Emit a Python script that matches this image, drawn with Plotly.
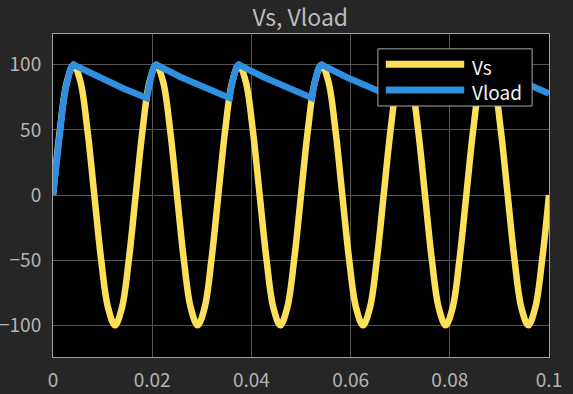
import plotly.graph_objects as go

# Source voltage Vs (12 samples per cycle)
t_vs = [0.0, 0.00139, 0.00278, 0.00417, 0.00556, 0.00694, 0.00833, 0.00972, 0.01111, 0.0125, 0.01389, 0.01528,
        0.01667, 0.01806, 0.01944, 0.02083, 0.02222, 0.02361, 0.025, 0.02639, 0.02778, 0.02917, 0.03056, 0.03194,
        0.03333, 0.03472, 0.03611, 0.0375, 0.03889, 0.04028, 0.04167, 0.04306, 0.04444, 0.04583, 0.04722, 0.04861,
        0.05, 0.05139, 0.05278, 0.05417, 0.05556, 0.05694, 0.05833, 0.05972, 0.06111, 0.0625, 0.06389, 0.06528,
        0.06667, 0.06806, 0.06944, 0.07083, 0.07222, 0.07361, 0.075, 0.07639, 0.07778, 0.07917, 0.08056, 0.08194,
        0.08333, 0.08472, 0.08611, 0.0875, 0.08889, 0.09028, 0.09167, 0.09306, 0.09444, 0.09583, 0.09722, 0.09861,
        0.1]
vs = [0, 50, 86.6, 100, 86.6, 50, 0, -50, -86.6, -100, -86.6, -50,
      0, 50, 86.6, 100, 86.6, 50, 0, -50, -86.6, -100, -86.6, -50,
      0, 50, 86.6, 100, 86.6, 50, 0, -50, -86.6, -100, -86.6, -50,
      0, 50, 86.6, 100, 86.6, 50, 0, -50, -86.6, -100, -86.6, -50,
      0, 50, 86.6, 100, 86.6, 50, 0, -50, -86.6, -100, -86.6, -50,
      0, 50, 86.6, 100, 86.6, 50, 0, -50, -86.6, -100, -86.6, -50,
      0]

# Load voltage Vload
t_vload = [0.0, 0.0005, 0.001, 0.0015, 0.002, 0.0025, 0.003, 0.0035, 0.00417, 0.0092, 0.0142, 0.0189,
           0.0193, 0.0197, 0.0201, 0.0205, 0.02083, 0.0258, 0.0308, 0.0356,
           0.036, 0.0364, 0.0368, 0.0372, 0.0375, 0.0425, 0.0475, 0.0522,
           0.0526, 0.053, 0.0534, 0.0538, 0.05417, 0.0592, 0.0642, 0.0689,
           0.0693, 0.0697, 0.0701, 0.0705, 0.07083, 0.0758, 0.0808, 0.0856,
           0.086, 0.0864, 0.0868, 0.0872, 0.0875, 0.0925, 0.0975, 0.1]
vload = [0, 18.7, 37.1, 54.5, 68.5, 80.9, 90.5, 96.9, 100, 90.4, 81.8, 74.5,
         83.8, 91.0, 96.2, 99.2, 100, 90.4, 81.8, 74.5,
         83.8, 91.0, 96.2, 99.2, 100, 90.4, 81.8, 74.5,
         83.8, 91.0, 96.2, 99.2, 100, 90.4, 81.8, 74.5,
         83.8, 91.0, 96.2, 99.2, 100, 90.4, 81.8, 74.5,
         83.8, 91.0, 96.2, 99.2, 100, 90.4, 81.8, 77.9]

series_names = ["Vs", "Vload"]
series_colors = ["#fde05a", "#2f8fe0"]

x_ticks = [0, 0.02, 0.04, 0.06, 0.08, 0.1]
x_labels = ["0", "0.02", "0.04", "0.06", "0.08", "0.1"]
y_ticks = [-100, -50, 0, 50, 100]
y_labels = ["\u2212100", "\u221250", "0", "50", "100"]

FONT = "Noto Sans CJK JP"
LW = 6.5

fig = go.Figure()
fig.add_trace(go.Scatter(x=t_vs, y=vs, mode="lines", name=series_names[0], showlegend=False,
                         line=dict(color=series_colors[0], width=LW, shape="spline", smoothing=1.0)))
fig.add_trace(go.Scatter(x=t_vload, y=vload, mode="lines", name=series_names[1], showlegend=False,
                         line=dict(color=series_colors[1], width=LW)))

# Legend box drawn MATLAB-style (long line samples)
shapes = [dict(type="rect", xref="paper", yref="paper", x0=0.655, x1=0.966, y0=0.777, y1=0.954,
               fillcolor="#000000", line=dict(color="#a8a8a8", width=1), layer="above")]
annotations = []
row_line_y = [0.906, 0.827]
row_text_y = [0.899, 0.822]
for name, color, ly, ty in zip(series_names, series_colors, row_line_y, row_text_y):
    shapes.append(dict(type="line", xref="paper", yref="paper", x0=0.671, x1=0.829, y0=ly, y1=ly,
                       line=dict(color=color, width=7), layer="above"))
    annotations.append(dict(text=name, xref="paper", yref="paper", x=0.841, y=ty,
                            xanchor="left", yanchor="middle", showarrow=False,
                            font=dict(family=FONT, size=19, color="#f2f2f2")))

fig.update_layout(
    width=573, height=394,
    paper_bgcolor="#262626", plot_bgcolor="#000000",
    margin=dict(l=53, r=24, t=34, b=37, autoexpand=False),
    font=dict(family=FONT, color="#b4b4b4", size=19),
    title=dict(text="Vs, Vload", x=0.524, xanchor="center", y=0.955, yanchor="middle",
               font=dict(family=FONT, size=23, color="#bcbcbc")),
    showlegend=False,
    shapes=shapes,
    annotations=annotations,
    xaxis=dict(range=[0, 0.1], tickvals=x_ticks, ticktext=x_labels,
               showgrid=True, gridcolor="#555555", gridwidth=1,
               showline=True, linecolor="#a0a0a0", linewidth=1, mirror=True,
               zeroline=False, ticks="", ticklabelstandoff=6, automargin=False),
    yaxis=dict(range=[-124.3, 123.6], tickvals=y_ticks, ticktext=y_labels,
               showgrid=True, gridcolor="#555555", gridwidth=1,
               showline=True, linecolor="#a0a0a0", linewidth=1, mirror=True,
               zeroline=False, ticks="", ticklabelstandoff=7, automargin=False),
)

fig.write_html("out.html", config={"displayModeBar": False},
               post_script="document.body.style.margin='0';")
